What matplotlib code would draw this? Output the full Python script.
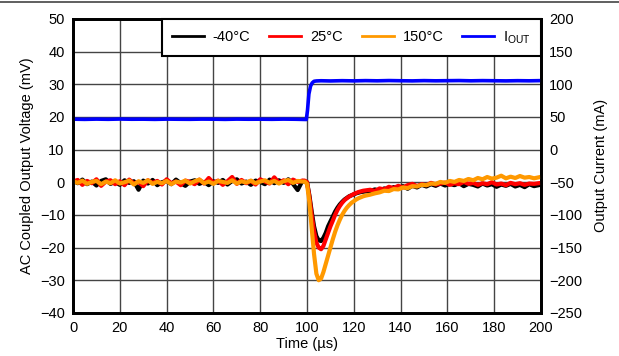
import matplotlib
matplotlib.use("Agg")
import matplotlib.pyplot as plt
import numpy as np

plt.rcParams['font.family'] = ['Liberation Sans', 'DejaVu Sans']
plt.rcParams['font.size'] = 10.5

# time axis (us): baseline every 2 us, step region every 1 us, tail every 2 us
t_base = list(range(0, 99, 2))
t_step = list(range(99, 126))
t_tail = list(range(127, 200, 2))
time_us = t_base + t_step + t_tail

# AC coupled output voltage (mV)
v_m40 = ([0.5, -0.3, 0.8, -0.6, 0.2, -1.0, 0.4, 0.9, -0.5, 0.1,
          -0.8, 0.6, -0.2, 0.3, -2.3, 0.5, -0.4, 0.7, -0.9, 0.0,
          0.4, -0.6, 0.8, -0.3, -1.1, 0.2, 0.6, -0.5, 0.1, -0.9,
          0.3, -0.2, 0.7, -0.7, 0.4, 0.9, -0.4, 0.2, -0.8, 0.5,
          0.1, -0.6, 0.8, -0.3, 0.6, -0.2, 0.9, -0.5, -2.4, 0.4]
         + [0.3, 0.0, -4.0, -9.0, -13.5, -16.5, -17.8, -18.0, -17.0, -15.5,
            -13.5, -12.0, -10.5, -9.0, -7.8, -6.8, -6.0, -5.3, -4.8, -4.3,
            -4.0, -3.7, -3.4, -3.2, -3.0, -2.9, -2.8]
         + [-2.7, -2.2, -2.6, -1.9, -2.3, -1.5, -1.9, -1.2, -2.0, -1.1,
            -1.6, -0.8, -1.3, -0.6, -1.1, -0.4, -1.0, -0.5, -0.9, -0.3,
            -1.2, -0.5, -0.8, -1.3, -0.4, -1.0, -0.6, -1.4, -0.7, -1.1,
            -0.5, -1.3, -0.8, -1.5, -0.6, -1.2, -0.9])

v_25 = ([0.2, 0.7, -0.8, 0.4, -0.3, 0.9, -1.1, 0.2, 0.6, -0.6,
         0.3, -0.9, 0.8, -0.4, 0.1, -1.2, 0.6, -0.2, 0.4, -0.7,
         0.9, -0.3, 0.2, -0.9, 0.5, 0.1, -0.6, 0.8, -0.4, 1.3,
         -0.2, 0.5, -0.8, 0.3, 1.6, -0.5, 0.7, -0.3, 0.4, -0.7,
         0.9, 0.2, -0.4, 1.5, -0.2, 0.6, -0.6, 0.8, 0.1, 0.5]
        + [0.5, 0.0, -4.5, -10.0, -15.0, -18.5, -20.0, -20.5, -19.5, -17.5,
           -15.5, -13.5, -11.8, -10.0, -8.5, -7.3, -6.3, -5.5, -4.9, -4.4,
           -4.0, -3.6, -3.3, -3.0, -2.8, -2.6, -2.5]
        + [-2.3, -2.7, -1.9, -2.2, -1.4, -1.8, -1.1, -1.6, -0.9, -0.5,
           -1.2, -0.6, -0.9, -0.2, -0.7, -0.4, -0.1, -0.8, -0.3, -0.6,
           0.1, -0.5, -0.2, -0.8, -0.3, -0.6, 0.0, -0.7, -0.4, -0.9,
           -0.2, -0.6, -0.3, -0.8, -0.4, -0.5, -0.3])

v_150 = ([0.3, -0.2, 0.5, -0.5, 0.1, 0.4, -0.6, 0.2, -0.3, 0.6,
          -0.4, 0.0, 0.5, -0.7, 0.3, -0.2, 0.6, -0.5, 0.1, -0.3,
          0.4, -0.6, 0.2, -0.1, 0.5, -0.4, 0.3, 0.8, -0.3, 0.2,
          -0.5, 0.4, 0.1, -0.2, 0.6, -0.4, 0.3, -0.1, 0.5, -0.3,
          0.2, 0.6, -0.2, 0.4, -0.4, 0.3, 0.7, -0.2, 0.4, 0.2]
         + [0.2, -0.5, -6.0, -14.0, -22.0, -28.0, -30.0, -29.5, -27.5, -25.0,
            -22.5, -20.0, -17.5, -15.2, -13.2, -11.5, -10.0, -8.8, -7.8, -7.0,
            -6.3, -5.8, -5.3, -4.9, -4.6, -4.3, -4.1]
         + [-3.8, -3.4, -3.1, -2.6, -2.7, -2.1, -2.2, -1.6, -1.8, -1.2,
            -1.3, -0.8, -0.9, -0.4, -0.5, 0.1, -0.2, 0.4, 0.1, 0.7,
            0.4, 1.0, 0.6, 1.3, 0.9, 1.6, 1.1, 1.4, 2.0, 1.2,
            1.7, 1.3, 1.9, 1.4, 1.6, 1.2, 1.5])

# output current (mA)
t_iout = [0, 5, 10, 15, 20, 25, 30, 35, 40, 45, 50, 55, 60, 65, 70, 75, 80,
          85, 90, 95, 99.7, 100.2, 100.8, 101.5, 102.2, 103, 104, 106, 110,
          115, 120, 125, 130, 135, 140, 145, 150, 155, 160, 165, 170, 175,
          180, 185, 190, 195, 200]
i_out = [46.5, 46.2, 46.6, 46.3, 46.7, 46.4, 46.5, 46.2, 46.6, 46.4, 46.3,
         46.6, 46.5, 46.2, 46.6, 46.4, 46.5, 46.3, 46.6, 46.4, 46.0, 60.0,
         85.0, 97.0, 102.0, 104.5, 105.0, 105.3, 105.0, 105.4, 105.1, 105.5,
         105.2, 105.6, 105.3, 105.1, 105.5, 105.2, 105.4, 105.6, 105.2,
         105.5, 105.3, 105.1, 105.4, 105.2, 105.5]

fig = plt.figure(figsize=(6.19, 3.56), dpi=100)
ax = fig.add_axes([0.118, 0.121, 0.756, 0.826])

ax.plot(time_us, v_m40, color='black', lw=3.0, label='-40°C', zorder=3)
ax.plot(time_us, v_25, color='#ff0000', lw=3.0, label='25°C', zorder=4)
ax.plot(time_us, v_150, color='#ff9900', lw=3.0, label='150°C', zorder=5)

ax.set_xlim(0, 200)
ax.set_ylim(-40, 50)
ax.set_xticks(np.arange(0, 201, 20))
ax.set_yticks(np.arange(-40, 51, 10))
ax.grid(True, color='#444444', lw=1.0)
ax.set_axisbelow(True)
ax.tick_params(length=0, pad=6)
ax.set_xlabel('Time (µs)', labelpad=1)
ax.set_ylabel('AC Coupled Output Voltage (mV)', labelpad=4)

ax2 = ax.twinx()
ax2.plot(t_iout, i_out, color='#0000ff', lw=2.6, label='I$_{\\mathregular{OUT}}$')
ax2.set_ylim(-250, 200)
ax2.set_yticks(np.arange(-250, 201, 50))
ax2.tick_params(length=0, pad=6)
ax2.set_ylabel('Output Current (mA)', labelpad=8)

for a in (ax, ax2):
    for s in a.spines.values():
        s.set_linewidth(2)
        s.set_color('black')

h1, l1 = ax.get_legend_handles_labels()
h2, l2 = ax2.get_legend_handles_labels()
leg = ax2.legend(h1 + h2, l1 + l2, loc='upper right', ncol=4,
                 bbox_to_anchor=(1.0, 1.0), borderaxespad=0, fancybox=False,
                 framealpha=1, edgecolor='black', handlelength=2.2,
                 columnspacing=1.3, handletextpad=0.6, borderpad=0.7)
leg.get_frame().set_linewidth(1.5)
for line in leg.get_lines():
    line.set_linewidth(2)

fig.add_artist(plt.Line2D([0, 1], [0.995, 0.995], color='#444444', lw=1.2,
                          transform=fig.transFigure))

fig.savefig('out.png', dpi=100)
